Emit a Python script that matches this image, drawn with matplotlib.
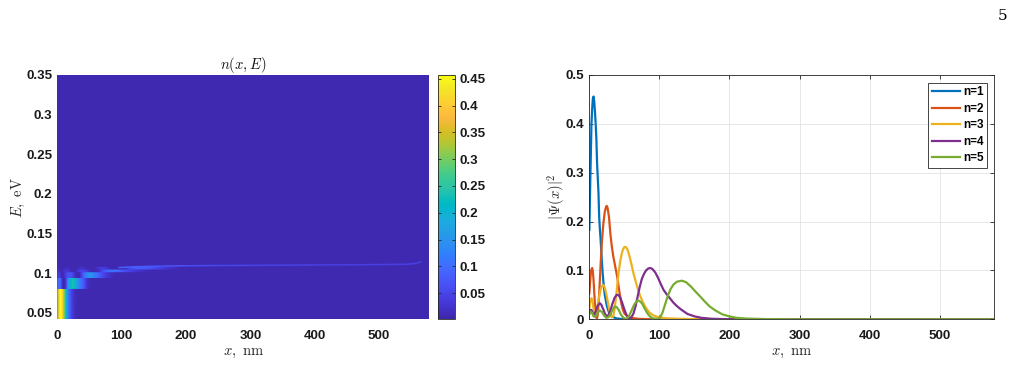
import numpy as np
import matplotlib
matplotlib.use("Agg")
import matplotlib.pyplot as plt
from matplotlib.colors import LinearSegmentedColormap, Normalize
from matplotlib.collections import LineCollection
from matplotlib.ticker import FuncFormatter, MultipleLocator

# ---------------- data ----------------
# |Psi_n(x)|^2 for the five lowest states, x in nm
x1 = [0, 1, 2, 3, 4, 5, 6, 7, 8, 9, 10, 11, 12, 13, 14, 15, 16, 17, 18, 19, 20, 22, 25, 28, 32, 38, 45, 60, 100, 578]
p1 = [0.183, 0.26, 0.33, 0.40, 0.43, 0.452, 0.456, 0.445, 0.425, 0.40, 0.37, 0.32, 0.29, 0.26, 0.21, 0.185, 0.165, 0.14, 0.115, 0.095, 0.077, 0.05, 0.027, 0.014, 0.006, 0.002, 0.0008, 0.0001, 0, 0]

x2 = [0, 1, 2, 3, 4, 5, 6, 7, 8, 9, 10, 11, 12, 14, 16, 18, 20, 22, 24, 25, 26, 28, 30, 32, 34, 36, 38, 40, 42, 44, 46, 48, 50, 55, 60, 70, 90, 578]
p2 = [0.053, 0.075, 0.093, 0.102, 0.105, 0.098, 0.08, 0.055, 0.03, 0.012, 0.003, 0.002, 0.01, 0.05, 0.11, 0.16, 0.196, 0.22, 0.231, 0.232, 0.228, 0.21, 0.175, 0.15, 0.13, 0.115, 0.1, 0.085, 0.065, 0.046, 0.03, 0.019, 0.012, 0.005, 0.003, 0.001, 0, 0]

x3 = [0, 1, 2, 3, 4, 5, 6, 7, 8, 9, 10, 12, 14, 16, 18, 20, 22, 24, 26, 28, 30, 32, 34, 36, 38, 40, 42, 44, 46, 48, 50, 52, 54, 56, 58, 60, 63, 66, 69, 72, 76, 80, 85, 90, 95, 100, 110, 130, 160, 578]
p3 = [0.022, 0.033, 0.04, 0.043, 0.04, 0.033, 0.022, 0.013, 0.009, 0.01, 0.015, 0.03, 0.047, 0.061, 0.068, 0.07, 0.065, 0.053, 0.038, 0.022, 0.01, 0.004, 0.006, 0.02, 0.045, 0.072, 0.098, 0.118, 0.133, 0.143, 0.148, 0.148, 0.144, 0.136, 0.125, 0.113, 0.094, 0.078, 0.063, 0.05, 0.036, 0.025, 0.015, 0.009, 0.006, 0.004, 0.002, 0.001, 0, 0]

x4 = [0, 1.5, 3, 5, 6.5, 8, 10, 12, 14.8, 17, 20, 22, 24.8, 27, 30, 33, 36, 39, 41, 44, 47, 50, 53, 56, 58, 60, 63, 66, 69, 72, 75, 78, 81, 84, 87, 90, 94, 98, 102, 106, 110, 115, 120, 125, 130, 140, 150, 160, 175, 200, 578]
p4 = [0.016, 0.019, 0.019, 0.012, 0.009, 0.012, 0.02, 0.028, 0.033, 0.03, 0.02, 0.012, 0.006, 0.008, 0.018, 0.032, 0.044, 0.05, 0.05, 0.045, 0.033, 0.02, 0.009, 0.003, 0.002, 0.004, 0.012, 0.027, 0.047, 0.067, 0.083, 0.093, 0.1, 0.104, 0.105, 0.103, 0.096, 0.085, 0.072, 0.06, 0.052, 0.043, 0.034, 0.027, 0.021, 0.011, 0.006, 0.003, 0.001, 0.0002, 0]

x5 = [0, 2, 4, 6, 8, 10, 12, 15, 18, 21, 24, 27, 30, 33, 36, 39, 42, 45, 48, 51, 54, 57, 60, 64, 68, 71, 75, 79, 83, 87, 91, 95, 98, 100, 104, 108, 112, 116, 120, 125, 132, 138, 145, 152, 158, 165, 172, 180, 190, 200, 210, 225, 250, 300, 578]
p5 = [0.01, 0.016, 0.013, 0.006, 0.005, 0.009, 0.014, 0.018, 0.015, 0.008, 0.003, 0.004, 0.01, 0.019, 0.026, 0.025, 0.019, 0.01, 0.004, 0.001, 0.002, 0.008, 0.017, 0.03, 0.038, 0.038, 0.033, 0.022, 0.012, 0.005, 0.002, 0.001, 0.001, 0.002, 0.012, 0.03, 0.048, 0.062, 0.071, 0.077, 0.079, 0.076, 0.067, 0.056, 0.047, 0.036, 0.026, 0.018, 0.01, 0.006, 0.003, 0.0015, 0.0005, 0, 0]

labels = ["n=1", "n=2", "n=3", "n=4", "n=5"]

# energy bands in n(x,E): state n occupies E in [band_edges[n-1], band_edges[n])
band_edges = [0.042, 0.081, 0.0947, 0.102, 0.1055, 0.1075]
# faint line of higher levels converging to the continuum edge
edge_x = [95, 130, 160, 200, 250, 300, 400, 500, 545, 558, 566]
edge_E = [0.1072, 0.1085, 0.109, 0.1095, 0.1098, 0.110, 0.1105, 0.111, 0.1115, 0.1125, 0.115]
edge_v = [0.09, 0.08, 0.075, 0.065, 0.055, 0.05, 0.045, 0.042, 0.045, 0.05, 0.04]
background = 0.007

clim = (0.0014, 0.457)
cbar_ticks = [0.05, 0.1, 0.15, 0.2, 0.25, 0.3, 0.35, 0.4, 0.45]

# ---------------- style ----------------
parula_rgb = [
    [0.2422, 0.1504, 0.6603], [0.2504, 0.1650, 0.7076], [0.2578, 0.1818, 0.7511], [0.2647, 0.1978, 0.7952],
    [0.2706, 0.2147, 0.8364], [0.2751, 0.2342, 0.8710], [0.2783, 0.2559, 0.8991], [0.2803, 0.2782, 0.9221],
    [0.2813, 0.3006, 0.9414], [0.2810, 0.3228, 0.9579], [0.2795, 0.3447, 0.9717], [0.2760, 0.3667, 0.9829],
    [0.2699, 0.3892, 0.9906], [0.2602, 0.4123, 0.9952], [0.2440, 0.4358, 0.9988], [0.2206, 0.4603, 0.9973],
    [0.1963, 0.4847, 0.9892], [0.1834, 0.5074, 0.9798], [0.1786, 0.5289, 0.9682], [0.1764, 0.5499, 0.9520],
    [0.1687, 0.5703, 0.9359], [0.1540, 0.5902, 0.9218], [0.1460, 0.6091, 0.9079], [0.1380, 0.6276, 0.8973],
    [0.1248, 0.6459, 0.8883], [0.1113, 0.6635, 0.8763], [0.0952, 0.6798, 0.8598], [0.0689, 0.6948, 0.8394],
    [0.0297, 0.7082, 0.8163], [0.0036, 0.7203, 0.7917], [0.0067, 0.7312, 0.7660], [0.0433, 0.7411, 0.7394],
    [0.0964, 0.7500, 0.7120], [0.1408, 0.7584, 0.6842], [0.1717, 0.7670, 0.6554], [0.1938, 0.7758, 0.6251],
    [0.2161, 0.7843, 0.5923], [0.2470, 0.7918, 0.5567], [0.2906, 0.7973, 0.5188], [0.3406, 0.8008, 0.4789],
    [0.3909, 0.8029, 0.4354], [0.4456, 0.8024, 0.3909], [0.5044, 0.7993, 0.3480], [0.5616, 0.7942, 0.3045],
    [0.6174, 0.7876, 0.2612], [0.6720, 0.7793, 0.2227], [0.7242, 0.7698, 0.1910], [0.7738, 0.7598, 0.1646],
    [0.8203, 0.7498, 0.1535], [0.8634, 0.7406, 0.1596], [0.9035, 0.7330, 0.1774], [0.9393, 0.7288, 0.2100],
    [0.9728, 0.7298, 0.2394], [0.9956, 0.7434, 0.2371], [0.9970, 0.7659, 0.2199], [0.9952, 0.7893, 0.2028],
    [0.9892, 0.8136, 0.1885], [0.9786, 0.8386, 0.1766], [0.9676, 0.8639, 0.1643], [0.9610, 0.8890, 0.1537],
    [0.9597, 0.9135, 0.1423], [0.9628, 0.9373, 0.1265], [0.9691, 0.9606, 0.1064], [0.9769, 0.9839, 0.0805]]
parula = LinearSegmentedColormap.from_list("parula", parula_rgb)
line_colors = ["#0072BD", "#D95319", "#EDB120", "#7E2F8E", "#77AC30"]
axcol = "#262626"

plt.rcParams["mathtext.fontset"] = "cm"
plt.rcParams["font.family"] = ["Liberation Sans", "DejaVu Sans"]
tick_fs = 9.6
label_fs = 10.5

def fmt(v, pos=None):
    return "%g" % round(v, 6)

fig = plt.figure(figsize=(10.17, 3.66), dpi=100)
fig.patch.set_facecolor("white")

def style_axes(ax):
    for s in ax.spines.values():
        s.set_color(axcol)
        s.set_linewidth(0.6)
    ax.tick_params(direction="in", length=3, width=0.6, colors=axcol, labelsize=tick_fs,
                   top=True, right=True)
    ax.tick_params(axis="x", pad=7.5)
    ax.tick_params(axis="y", pad=3.6)
    for lab in ax.get_xticklabels() + ax.get_yticklabels():
        lab.set_fontweight("bold")
        lab.set_color("#1a1a1a")

# ---------------- left: n(x,E) ----------------
ax1 = fig.add_axes([0.0563, 0.1276, 0.3658, 0.6675])
norm = Normalize(*clim)
ax1.set_xlim(0, 578)
ax1.set_ylim(0.042, 0.35)
ax1.set_facecolor(parula(norm(background)))

psis = [(x1, p1), (x2, p2), (x3, p3), (x4, p4), (x5, p5)]
for n, (xs, ps) in enumerate(psis):
    xs_a = np.array(xs, dtype=float)
    ps_a = np.maximum(np.array(ps, dtype=float), background)
    e0, e1 = band_edges[n], band_edges[n + 1]
    X = np.vstack([xs_a, xs_a])
    Y = np.vstack([np.full_like(xs_a, e0), np.full_like(xs_a, e1)])
    C = np.vstack([ps_a, ps_a])
    ax1.pcolormesh(X, Y, C, cmap=parula, norm=norm, shading="gouraud", zorder=1, antialiased=False)

pts = np.column_stack([edge_x, edge_E])
segs = np.stack([pts[:-1], pts[1:]], axis=1)
seg_vals = 0.5 * (np.array(edge_v[:-1]) + np.array(edge_v[1:]))
lc = LineCollection(segs, cmap=parula, norm=norm, linewidths=1.1, zorder=2)
lc.set_array(seg_vals)
ax1.add_collection(lc)

ax1.xaxis.set_major_locator(MultipleLocator(100))
ax1.set_yticks([0.05, 0.1, 0.15, 0.2, 0.25, 0.3, 0.35])
ax1.xaxis.set_major_formatter(FuncFormatter(fmt))
ax1.yaxis.set_major_formatter(FuncFormatter(fmt))
style_axes(ax1)
ax1.tick_params(length=0)
for s in ax1.spines.values():
    s.set_visible(False)
ax1.set_xlabel(r"$x,\ \mathrm{nm}$", fontsize=label_fs, color=axcol, labelpad=3)
ax1.set_ylabel(r"$E,\ \mathrm{eV}$", fontsize=label_fs, color=axcol)
ax1.yaxis.set_label_coords(-0.082, 0.5)
ax1.set_title(r"$n(x,E)$", fontsize=label_fs, color="#111111", pad=4)

# colorbar
cax = fig.add_axes([0.4307, 0.1276, 0.0167, 0.6675])
sm = matplotlib.cm.ScalarMappable(norm=norm, cmap=parula)
cb = fig.colorbar(sm, cax=cax, ticks=cbar_ticks, format=FuncFormatter(fmt))
cb.outline.set_edgecolor(axcol)
cb.outline.set_linewidth(0.6)
cax.tick_params(direction="in", length=2.5, width=0.6, colors=axcol, labelsize=tick_fs, left=True, right=True, pad=3)
for lab in cax.get_yticklabels():
    lab.set_fontweight("bold")
    lab.set_color("#1a1a1a")

# ---------------- right: |Psi(x)|^2 ----------------
ax2 = fig.add_axes([0.5795, 0.1276, 0.3982, 0.6675])
for (xs, ps), c, lab in zip(psis, line_colors, labels):
    ax2.plot(xs, ps, color=c, lw=1.6, label=lab)
ax2.set_xlim(0, 578)
ax2.set_ylim(0, 0.5)
ax2.xaxis.set_major_locator(MultipleLocator(100))
ax2.yaxis.set_major_locator(MultipleLocator(0.1))
ax2.xaxis.set_major_formatter(FuncFormatter(fmt))
ax2.yaxis.set_major_formatter(FuncFormatter(fmt))
ax2.grid(True, color="#e3e3e3", lw=0.6)
ax2.set_axisbelow(True)
style_axes(ax2)
ax2.set_xlabel(r"$x,\ \mathrm{nm}$", fontsize=label_fs, color=axcol, labelpad=3)
ax2.set_ylabel(r"$|\Psi(x)|^2$", fontsize=label_fs, color=axcol)
ax2.yaxis.set_label_coords(-0.054, 0.5)
leg = ax2.legend(loc="upper right", bbox_to_anchor=(0.983, 0.968), fancybox=False, framealpha=1,
                 edgecolor="#262626", prop={"weight": "bold", "size": 8.5, "family": "Liberation Sans"},
                 handlelength=2.4, handletextpad=0.25, labelspacing=0.38, borderpad=0.3, borderaxespad=0)
leg.get_frame().set_linewidth(0.6)

fig.text(0.9862, 0.955, "5", fontsize=11, family="DejaVu Serif", ha="center", va="center")

fig.savefig("out.png", dpi=100)
